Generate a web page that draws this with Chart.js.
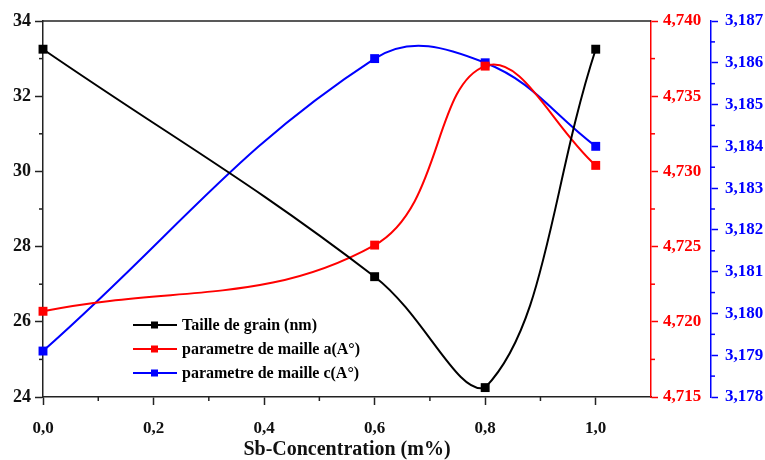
<!DOCTYPE html>
<html>
<head>
<meta charset="utf-8">
<script src="https://cdn.jsdelivr.net/npm/chart.js@4"></script>
<style>
  body { margin: 0; background: #fff; }
</style>
</head>
<body>
<canvas id="chart" width="765" height="460"></canvas>
<script>
// Data
const concentration = [0, 0.6, 0.8, 1.0];
const grainSize = [33.25, 27.2, 24.25, 33.25];
const paramA = [4.7207, 4.7251, 4.7370, 4.7304];
const paramC = [3.1791, 3.1861, 3.1860, 3.1840];
const seriesLabels = ['Taille de grain (nm)', 'parametre de maille a(A°)', 'parametre de maille c(A°)'];

// Tick values
const xTicks = [0, 0.2, 0.4, 0.6, 0.8, 1.0];
const xMinor = [0.1, 0.3, 0.5, 0.7, 0.9];
const grainTicks = [24, 26, 28, 30, 32, 34];
const grainMinor = [25, 27, 29, 31, 33];
const aTicks = [4.715, 4.720, 4.725, 4.730, 4.735, 4.740];
const aMinor = [4.7175, 4.7225, 4.7275, 4.7325, 4.7375];
const cTicks = [3.178, 3.179, 3.180, 3.181, 3.182, 3.183, 3.184, 3.185, 3.186, 3.187];
const cMinor = [3.1785, 3.1795, 3.1805, 3.1815, 3.1825, 3.1835, 3.1845, 3.1855, 3.1865];

const FONT = '"Liberation Serif", "Times New Roman", serif';
const AXIS = '#222';
const RED = '#ff0000';
const BLUE = '#0000ff';

function comma(v, d) {
    return v.toFixed(d).replace('.', ',');
}

function toPoints(ys) {
    return concentration.map((x, i) => ({ x: x, y: ys[i] }));
}

function fixTicks(values) {
    return function (scale) {
        scale.ticks = values.map(v => ({ value: v }));
    };
}

function series(label, ys, color, axis) {
    return {
        label: label,
        data: toPoints(ys),
        yAxisID: axis,
        borderColor: color,
        backgroundColor: color,
        borderWidth: 2,
        tension: 0.4,
        pointStyle: 'rect',
        pointRadius: 6.3,
        pointHoverRadius: 6.3,
        pointBorderWidth: 0,
        clip: false
    };
}

// Minor ticks and the top frame line
const minorTicks = {
    id: 'minorTicks',
    afterDraw(chart) {
        const ctx = chart.ctx;
        const s = chart.scales;
        const area = chart.chartArea;
        const seg = (x1, y1, x2, y2) => {
            ctx.beginPath(); ctx.moveTo(x1, y1); ctx.lineTo(x2, y2); ctx.stroke();
        };
        ctx.save();
        ctx.lineWidth = 1.5;
        ctx.strokeStyle = AXIS;
        seg(area.left, area.top, area.right, area.top);
        xMinor.forEach(v => { const p = s.x.getPixelForValue(v); seg(p, area.bottom, p, area.bottom + 4); });
        grainMinor.forEach(v => { const p = s.y.getPixelForValue(v); seg(area.left, p, area.left - 4, p); });
        ctx.strokeStyle = RED;
        aMinor.forEach(v => { const p = s.yA.getPixelForValue(v); seg(area.right, p, area.right + 4, p); });
        ctx.strokeStyle = BLUE;
        const bx = s.yC.left;
        cMinor.forEach(v => { const p = s.yC.getPixelForValue(v); seg(bx, p, bx + 4, p); });
        ctx.restore();
    }
};

// Legend placed inside the plot area
const insideLegend = {
    id: 'insideLegend',
    afterDraw(chart) {
        const ctx = chart.ctx;
        ctx.save();
        ctx.font = 'bold 16px ' + FONT;
        ctx.textBaseline = 'middle';
        chart.data.datasets.forEach((ds, i) => {
            const x = 133;
            const y = 325 + i * 24;
            ctx.strokeStyle = ds.borderColor;
            ctx.lineWidth = 2;
            ctx.beginPath(); ctx.moveTo(x, y); ctx.lineTo(x + 44, y); ctx.stroke();
            ctx.fillStyle = ds.borderColor;
            ctx.fillRect(x + 18, y - 3.5, 7, 7);
            ctx.fillStyle = '#000';
            ctx.fillText(ds.label, x + 49, y + 1);
        });
        ctx.restore();
    }
};

new Chart(document.getElementById('chart'), {
    type: 'line',
    data: {
        datasets: [
            series(seriesLabels[0], grainSize, '#000', 'y'),
            series(seriesLabels[1], paramA, RED, 'yA'),
            series(seriesLabels[2], paramC, BLUE, 'yC')
        ]
    },
    options: {
        responsive: false,
        animation: false,
        devicePixelRatio: 1,
        layout: { padding: { top: 21, left: 0, right: 0, bottom: 0 } },
        plugins: {
            legend: { display: false },
            tooltip: { enabled: false }
        },
        scales: {
            x: {
                type: 'linear',
                min: 0,
                max: 1.1,
                bounds: 'data',
                afterBuildTicks: fixTicks(xTicks),
                afterFit: s => { s.height = 63; },
                grid: { drawOnChartArea: false, tickLength: 8, tickColor: AXIS, tickWidth: 1.5 },
                border: { color: AXIS, width: 1.5 },
                ticks: {
                    autoSkip: false, maxRotation: 0, padding: 13, color: '#111',
                    font: { family: FONT, size: 17, weight: 'bold' },
                    callback: v => comma(v, 1)
                },
                title: {
                    display: true,
                    text: 'Sb-Concentration (m%)',
                    color: '#111',
                    padding: { top: 0, bottom: 0 },
                    font: { family: FONT, size: 20, weight: 'bold', lineHeight: 1 }
                }
            },
            y: {
                position: 'left',
                min: 24,
                max: 34,
                bounds: 'data',
                afterBuildTicks: fixTicks(grainTicks),
                afterFit: s => { s.width = 43; },
                grid: { drawOnChartArea: false, tickLength: 8, tickColor: AXIS, tickWidth: 1.5 },
                border: { color: AXIS, width: 1.5 },
                ticks: {
                    autoSkip: false, padding: 4, color: '#111',
                    font: { family: FONT, size: 18, weight: 'bold' },
                    callback: v => String(v)
                }
            },
            yA: {
                position: 'right',
                weight: 0,
                min: 4.715,
                max: 4.740,
                bounds: 'data',
                afterBuildTicks: fixTicks(aTicks),
                afterFit: s => { s.width = 60; },
                grid: { drawOnChartArea: false, tickLength: 7, tickColor: RED, tickWidth: 1.5 },
                border: { color: RED, width: 1.5 },
                ticks: {
                    autoSkip: false, padding: 5, color: RED,
                    font: { family: FONT, size: 17, weight: 'bold' },
                    callback: v => comma(v, 3)
                }
            },
            yC: {
                position: 'right',
                weight: 1,
                min: 3.178,
                max: 3.187,
                bounds: 'data',
                afterBuildTicks: fixTicks(cTicks),
                afterFit: s => { s.width = 54; },
                grid: { drawOnChartArea: false, tickLength: 7, tickColor: BLUE, tickWidth: 1.5 },
                border: { color: BLUE, width: 1.5 },
                ticks: {
                    autoSkip: false, padding: 7, color: BLUE,
                    font: { family: FONT, size: 17, weight: 'bold' },
                    callback: v => comma(v, 3)
                }
            }
        }
    },
    plugins: [minorTicks, insideLegend]
});
</script>
</body>
</html>
